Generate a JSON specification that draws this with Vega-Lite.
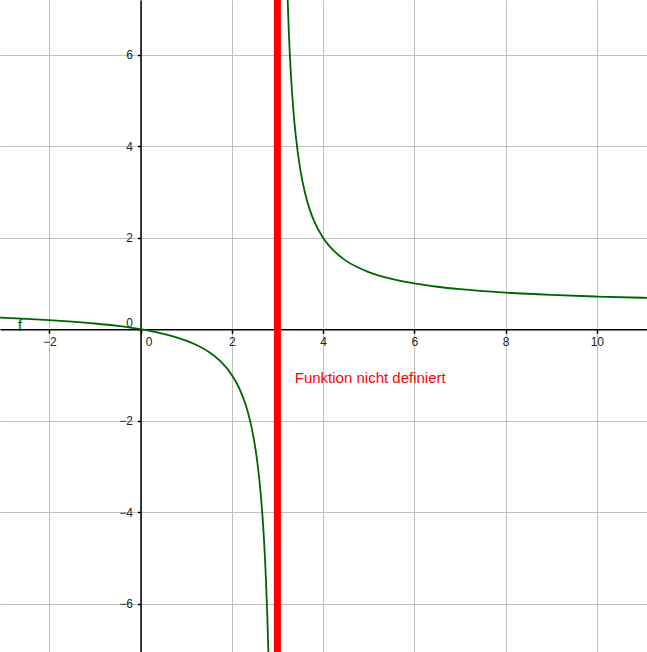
{
  "$schema": "https://vega.github.io/schema/vega-lite/v6.json",
  "width": 647,
  "height": 652,
  "autosize": "none",
  "padding": 0,
  "background": "white",
  "config": {
    "view": {"stroke": null},
    "axis": {
      "labelFont": "Liberation Sans",
      "labelFontSize": 12,
      "labelColor": "#222222",
      "domainColor": "#000000",
      "domainWidth": 1.5,
      "tickColor": "#000000",
      "tickWidth": 1.5,
      "tickSize": 3,
      "gridColor": "#c0c0c0",
      "gridWidth": 1,
      "gridOpacity": 1,
      "title": null
    }
  },
  "datasets": {
    "curve": [
      {"branch": "left", "x": -3.08, "y": 0.2533},
      {"branch": "left", "x": -3.0, "y": 0.25},
      {"branch": "left", "x": -2.5, "y": 0.2273},
      {"branch": "left", "x": -2.0, "y": 0.2},
      {"branch": "left", "x": -1.5, "y": 0.1667},
      {"branch": "left", "x": -1.0, "y": 0.125},
      {"branch": "left", "x": -0.5, "y": 0.0714},
      {"branch": "left", "x": 0.0, "y": 0.0},
      {"branch": "left", "x": 0.25, "y": -0.0455},
      {"branch": "left", "x": 0.5, "y": -0.1},
      {"branch": "left", "x": 0.75, "y": -0.1667},
      {"branch": "left", "x": 1.0, "y": -0.25},
      {"branch": "left", "x": 1.25, "y": -0.3571},
      {"branch": "left", "x": 1.5, "y": -0.5},
      {"branch": "left", "x": 1.75, "y": -0.7},
      {"branch": "left", "x": 2.0, "y": -1.0},
      {"branch": "left", "x": 2.1, "y": -1.1667},
      {"branch": "left", "x": 2.2, "y": -1.375},
      {"branch": "left", "x": 2.3, "y": -1.643},
      {"branch": "left", "x": 2.4, "y": -2.0},
      {"branch": "left", "x": 2.5, "y": -2.5},
      {"branch": "left", "x": 2.55, "y": -2.833},
      {"branch": "left", "x": 2.6, "y": -3.25},
      {"branch": "left", "x": 2.65, "y": -3.786},
      {"branch": "left", "x": 2.7, "y": -4.5},
      {"branch": "left", "x": 2.75, "y": -5.5},
      {"branch": "left", "x": 2.78, "y": -6.318},
      {"branch": "left", "x": 2.8, "y": -7.0},
      {"branch": "left", "x": 2.82, "y": -7.833},
      {"branch": "right", "x": 3.2, "y": 8.0},
      {"branch": "right", "x": 3.22, "y": 7.318},
      {"branch": "right", "x": 3.25, "y": 6.5},
      {"branch": "right", "x": 3.3, "y": 5.5},
      {"branch": "right", "x": 3.35, "y": 4.786},
      {"branch": "right", "x": 3.4, "y": 4.25},
      {"branch": "right", "x": 3.5, "y": 3.5},
      {"branch": "right", "x": 3.6, "y": 3.0},
      {"branch": "right", "x": 3.7, "y": 2.643},
      {"branch": "right", "x": 3.8, "y": 2.375},
      {"branch": "right", "x": 4.0, "y": 2.0},
      {"branch": "right", "x": 4.25, "y": 1.7},
      {"branch": "right", "x": 4.5, "y": 1.5},
      {"branch": "right", "x": 5.0, "y": 1.25},
      {"branch": "right", "x": 5.5, "y": 1.1},
      {"branch": "right", "x": 6.0, "y": 1.0},
      {"branch": "right", "x": 6.5, "y": 0.9286},
      {"branch": "right", "x": 7.0, "y": 0.875},
      {"branch": "right", "x": 8.0, "y": 0.8},
      {"branch": "right", "x": 9.0, "y": 0.75},
      {"branch": "right", "x": 10.0, "y": 0.7143},
      {"branch": "right", "x": 11.0, "y": 0.6875},
      {"branch": "right", "x": 11.1, "y": 0.6852}
    ],
    "pole": [{"x": 3}],
    "notes": [
      {"x": 3.38, "y": -1.065, "label": "Funktion nicht definiert"}
    ],
    "fname": [
      {"x": -2.64, "y": 0.06, "label": "f"}
    ]
  },
  "encoding": {
    "x": {
      "field": "x",
      "type": "quantitative",
      "scale": {"domain": [-3.08, 11.1], "nice": false, "zero": false},
      "axis": {
        "values": [-2, 0, 2, 4, 6, 8, 10],
        "offset": -322.7,
        "labelPadding": 3,
        "tickSize": 4,
        "labelOffset": {"condition": {"test": "datum.value === 0", "value": 8}, "value": 0},
        "format": "d"
      }
    },
    "y": {
      "field": "y",
      "type": "quantitative",
      "scale": {"domain": [-7.06, 7.2], "nice": false, "zero": false},
      "axis": {
        "values": [-6, -4, -2, 0, 2, 4, 6],
        "offset": -140.5,
        "labelPadding": 5,
        "labelOffset": {"condition": {"test": "datum.value === 0", "value": -7}, "value": 0},
        "format": "d"
      }
    }
  },
  "layer": [
    {
      "data": {"name": "curve"},
      "mark": {"type": "line", "color": "#006400", "strokeWidth": 1.8, "clip": true, "interpolate": "monotone"},
      "encoding": {"detail": {"field": "branch"}}
    },
    {
      "data": {"name": "pole"},
      "mark": {"type": "rule", "color": "#ff0000", "strokeWidth": 7},
      "encoding": {"y": null}
    },
    {
      "data": {"name": "notes"},
      "mark": {"type": "text", "color": "#ff0000", "font": "Liberation Sans", "fontSize": 15, "align": "left", "baseline": "middle"},
      "encoding": {"text": {"field": "label"}}
    },
    {
      "data": {"name": "fname"},
      "mark": {"type": "text", "color": "#006400", "font": "Liberation Sans", "fontSize": 16, "align": "center", "baseline": "middle"},
      "encoding": {"text": {"field": "label"}}
    }
  ]
}
